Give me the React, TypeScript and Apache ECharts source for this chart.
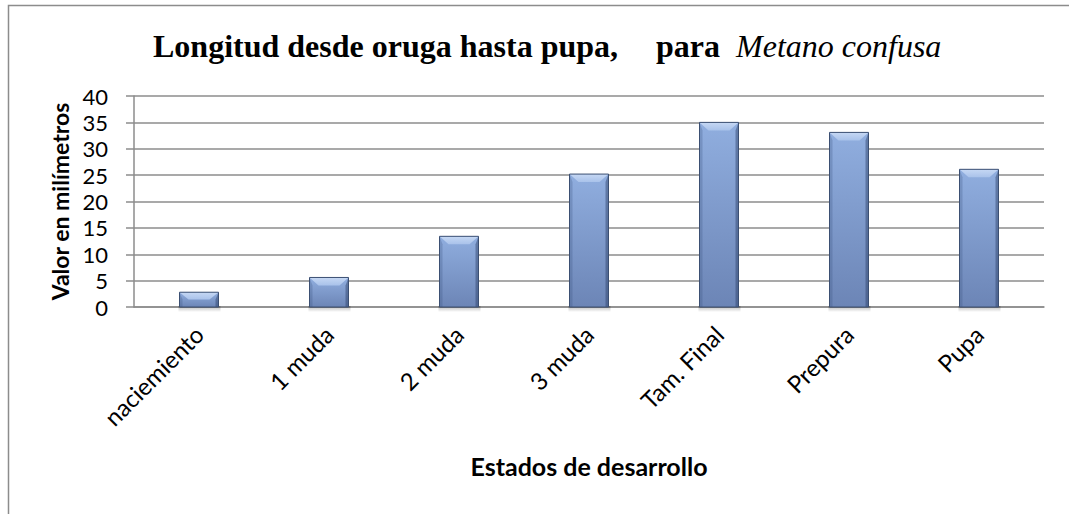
import React, { useEffect, useRef } from "react";
import * as echarts from "echarts";

const categories = ["naciemiento", "1 muda", "2 muda", "3 muda", "Tam. Final", "Prepura", "Pupa"];
const values = [2.8, 5.6, 13.4, 25.2, 35, 33.1, 26.1];
const yTicks = { min: 0, max: 40, interval: 5 };

const FONT = "Lato, 'Open Sans', sans-serif";
const SERIF = "Liberation Serif, Times New Roman, serif";

export default function App() {
  const ref = useRef<HTMLDivElement>(null);
  useEffect(() => {
    if (!ref.current) return;
    const chart = echarts.init(ref.current, null, { renderer: "svg" });
    const renderItem = (params: any, api: any) => {
      const idx = api.value(0);
      const v = api.value(1);
      const top = api.coord([idx, v]);
      const base = api.coord([idx, 0]);
      const w = api.size([1, 0])[0] * 0.3;
      const x0 = top[0] - w / 2;
      const x1 = top[0] + w / 2;
      const y0 = top[1];
      const y1 = base[1];
      const h = y1 - y0;
      const b = Math.min(8, h / 2);
      const sb = Math.min(3, h / 3);
      return {
        type: "group",
        children: [
          {
            type: "rect",
            shape: { x: x0 - 1, y: y1 - 1, width: w + 3, height: 6 },
            style: {
              fill: new echarts.graphic.LinearGradient(0, 0, 0, 1, [
                { offset: 0, color: "rgba(0,0,0,0.28)" },
                { offset: 1, color: "rgba(0,0,0,0)" },
              ]),
            },
          },
          {
            type: "rect",
            shape: { x: x0, y: y0, width: w, height: h },
            style: {
              fill: new echarts.graphic.LinearGradient(0, 0, 0, 1, [
                { offset: 0, color: "#90aedf" },
                { offset: 1, color: "#6c85b6" },
              ]),
            },
          },
          {
            type: "polygon",
            shape: { points: [[x0, y0], [x0 + sb, y0 + b], [x0 + sb, y1], [x0, y1]] },
            style: { fill: "rgba(50,75,120,0.25)" },
          },
          {
            type: "polygon",
            shape: { points: [[x1, y0], [x1 - sb, y0 + b], [x1 - sb, y1], [x1, y1]] },
            style: { fill: "rgba(40,60,100,0.45)" },
          },
          {
            type: "polygon",
            shape: { points: [[x0, y0], [x1, y0], [x1 - 9, y0 + b], [x0 + 9, y0 + b]] },
            style: {
              fill: new echarts.graphic.LinearGradient(0, 0, 0, 1, [
                { offset: 0, color: "#c6d8f4" },
                { offset: 1, color: "#a9c2ea" },
              ]),
            },
          },
          {
            type: "rect",
            shape: { x: x0, y: y0, width: w, height: h },
            style: { fill: "none", stroke: "#3b4f72", lineWidth: 1 },
          },
        ],
      };
    };
    chart.setOption({
      animation: false,
      backgroundColor: "#ffffff",
      title: {
        left: 148,
        top: 25,
        text: "{b|Longitud desde oruga hasta pupa,}{b2|para}{i|Metano confusa}",
        textStyle: {
          rich: {
            b: {
              fontFamily: SERIF,
              fontWeight: "bold",
              fontSize: 32,
              color: "#000",
              padding: [0, 38, 0, 0],
            },
            b2: {
              fontFamily: SERIF,
              fontWeight: "bold",
              fontSize: 32,
              color: "#000",
              padding: [0, 16, 0, 0],
            },
            i: {
              fontFamily: SERIF,
              fontStyle: "italic",
              fontWeight: "normal",
              fontSize: 32,
              color: "#000",
            },
          },
        },
      },
      graphic: [
        {
          type: "rect",
          shape: { x: 8.5, y: 5.5, width: 1200, height: 700 },
          style: { fill: "none", stroke: "#8c8c8c", lineWidth: 1.5 },
          silent: true,
        },
      ],
      grid: { left: 134, right: 25, top: 96, bottom: 207 },
      xAxis: {
        type: "category",
        data: categories,
        axisLine: { show: true, lineStyle: { color: "#8c8c8c", width: 1.5 } },
        axisTick: { show: false },
        axisLabel: {
          rotate: 45,
          interval: 0,
          margin: 23,
          fontFamily: FONT,
          fontSize: 24,
          color: "#000",
        },
        name: "Estados de desarrollo",
        nameLocation: "middle",
        nameGap: 146,
        nameTextStyle: { fontFamily: FONT, fontWeight: "bold", fontSize: 25, color: "#000" },
      },
      yAxis: {
        type: "value",
        min: yTicks.min,
        max: yTicks.max,
        interval: yTicks.interval,
        axisLine: { show: true, lineStyle: { color: "#8c8c8c", width: 1.5 } },
        axisTick: { show: true, length: 8, lineStyle: { color: "#8c8c8c", width: 1.5 } },
        splitLine: { show: true, lineStyle: { color: "#8c8c8c", width: 1.5 } },
        axisLabel: { fontFamily: FONT, fontSize: 22, color: "#000", margin: 26 },
        name: "Valor en milímetros",
        nameLocation: "middle",
        nameGap: 62,
        nameTextStyle: { fontFamily: FONT, fontWeight: "bold", fontSize: 23, color: "#000" },
      },
      series: [
        {
          type: "custom",
          renderItem,
          data: values.map((v, i) => [i, v]),
          encode: { x: 0, y: 1 },
        },
      ],
    });
    return () => chart.dispose();
  }, []);
  return (
    <div
      ref={ref}
      style={{ position: "fixed", left: 0, top: 0, width: 1069, height: 514, background: "#fff" }}
    />
  );
}
